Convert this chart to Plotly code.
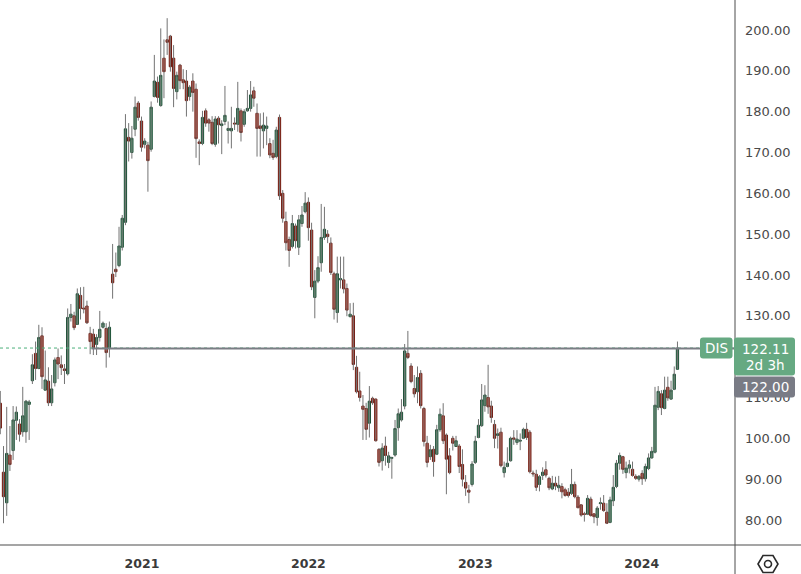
import pandas as pd
import plotly.graph_objects as go

# ---------------- data (weekly DIS candles) ----------------
first_week = "2020-03-09"
opens = [108.6, 91.7, 84.2, 95.9, 97.0, 104.4, 103.5, 101.6, 101.6, 108.3,
         114.1, 120.8, 117.1, 125.1, 111.8, 114.0, 108.7, 113.6, 119.8, 118.0,
         117.0, 115.8, 129.6, 130.0, 127.9, 135.0, 131.9, 132.4, 125.7, 125.5,
         123.0, 124.7, 127.2, 126.9, 122.0, 140.2, 141.4, 142.3, 146.8, 152.9,
         173.7, 170.0, 175.7, 182.1, 177.7, 172.0, 171.8, 170.8, 183.7, 187.2,
         181.5, 193.1, 197.6, 198.5, 193.1, 184.9, 191.4, 187.8, 187.5, 183.7,
         187.5, 185.5, 172.6, 172.2, 180.2, 178.0, 177.4, 172.0, 178.4, 176.6,
         177.6, 175.4, 175.3, 177.2, 176.9, 180.2, 176.9, 180.2, 180.8, 185.1,
         179.6, 176.5, 175.3, 175.9, 172.2, 169.8, 169.0, 178.6, 160.0, 153.1,
         148.7, 147.0, 152.0, 146.8, 152.6, 155.5, 157.8, 151.0, 134.5, 138.5,
         143.0, 149.2, 150.0, 147.8, 140.3, 130.8, 138.8, 138.8, 136.7, 129.8,
         130.0, 117.4, 111.6, 107.9, 107.3, 103.7, 109.8, 109.6, 97.3, 94.5,
         98.1, 94.1, 95.1, 95.9, 102.6, 104.5, 107.9, 120.8, 117.7, 112.2,
         111.4, 115.9, 107.3, 98.8, 95.5, 97.3, 96.1, 102.1, 105.5, 100.8,
         95.7, 100.0, 98.0, 98.1, 93.6, 89.2, 87.3, 88.7, 94.1, 100.2,
         103.1, 108.0, 110.0, 107.9, 103.4, 100.7, 101.5, 91.6, 93.1, 94.5,
         100.1, 99.0, 99.3, 100.0, 102.2, 101.5, 91.5, 91.2, 88.7, 90.9,
         92.3, 90.2, 87.6, 89.0, 87.9, 88.2, 87.4, 86.8, 86.5, 88.7,
         85.6, 83.7, 81.5, 81.4, 85.1, 81.5, 80.6, 84.0, 84.1, 81.9,
         79.4, 84.7, 88.2, 93.9, 95.5, 91.6, 92.7, 92.4, 90.7, 90.0,
         91.4, 90.1, 92.6, 95.2, 96.6, 107.6, 110.9, 107.3, 112.5, 109.6,
         112.0, 116.9]
highs = [111.6, 98.1, 107.7, 103.0, 107.9, 107.8, 104.7, 112.6, 109.4, 109.4,
         120.6, 123.7, 127.8, 127.2, 121.5, 117.4, 115.5, 119.8, 122.0, 120.3,
         118.2, 131.8, 132.9, 131.0, 136.7, 137.0, 137.1, 133.7, 127.3, 126.8,
         125.5, 131.2, 128.6, 128.2, 128.6, 147.6, 145.5, 151.8, 154.7, 179.4,
         177.2, 176.5, 183.7, 182.6, 178.8, 173.5, 172.6, 182.5, 193.9, 188.6,
         200.4, 197.7, 202.9, 198.8, 196.3, 189.8, 191.7, 190.4, 190.2, 186.5,
         189.4, 186.9, 173.2, 180.2, 180.8, 178.4, 178.9, 178.9, 178.9, 177.9,
         186.3, 177.6, 181.2, 178.6, 187.3, 180.8, 180.6, 185.3, 187.5, 186.1,
         182.0, 179.6, 179.8, 178.8, 173.5, 173.1, 176.3, 179.3, 160.8, 155.5,
         149.4, 154.7, 152.6, 154.7, 156.9, 160.3, 159.0, 152.8, 141.2, 144.6,
         157.4, 156.7, 151.0, 149.2, 140.8, 144.5, 144.5, 144.5, 137.9, 133.1,
         133.2, 120.2, 116.3, 110.6, 108.7, 112.8, 110.2, 109.8, 97.6, 98.8,
         100.4, 96.7, 95.5, 104.5, 107.3, 109.6, 123.1, 126.3, 118.4, 115.5,
         117.6, 116.7, 107.7, 100.6, 98.4, 98.1, 103.3, 107.3, 108.6, 101.2,
         97.6, 100.6, 100.6, 98.6, 97.3, 91.0, 88.6, 94.4, 100.6, 104.7,
         113.3, 113.0, 118.0, 109.2, 104.5, 102.4, 102.6, 94.3, 97.8, 100.4,
         102.0, 102.0, 101.2, 102.6, 103.8, 102.0, 92.1, 92.3, 91.0, 92.9,
         94.4, 90.6, 90.8, 90.6, 90.8, 89.0, 87.9, 87.8, 92.5, 89.4,
         86.1, 83.9, 82.0, 86.1, 85.7, 81.6, 83.4, 85.5, 86.1, 84.1,
         85.7, 91.0, 94.7, 96.5, 95.7, 94.3, 94.7, 94.3, 91.2, 91.0,
         92.2, 93.8, 96.3, 97.9, 112.6, 112.8, 111.8, 115.1, 115.1, 114.1,
         117.6, 123.7]
lows = [101.0, 79.2, 81.0, 92.0, 94.7, 99.6, 99.2, 100.4, 98.9, 99.6,
        113.3, 114.3, 116.9, 112.1, 111.7, 107.9, 107.9, 112.7, 114.5, 115.5,
        113.3, 115.4, 128.6, 126.5, 127.8, 129.1, 130.6, 128.0, 120.6, 120.4,
        120.4, 123.7, 126.9, 117.3, 119.8, 134.2, 139.5, 141.9, 146.0, 152.2,
        167.8, 168.5, 174.0, 177.8, 170.2, 171.0, 160.4, 170.2, 183.5, 182.2,
        181.2, 183.3, 193.9, 189.8, 181.1, 183.0, 185.5, 185.5, 178.8, 182.7,
        180.0, 168.7, 166.9, 171.8, 176.3, 175.1, 171.8, 171.4, 172.2, 169.6,
        176.7, 172.2, 171.0, 175.5, 175.1, 172.7, 176.3, 180.0, 180.0, 181.2,
        169.0, 169.0, 171.0, 171.8, 168.6, 168.2, 168.6, 158.4, 152.8, 146.0,
        142.0, 146.5, 146.5, 144.9, 151.8, 155.1, 148.4, 136.3, 129.4, 138.0,
        140.8, 148.6, 147.8, 140.0, 129.1, 128.3, 136.7, 135.5, 129.9, 129.6,
        116.7, 111.0, 109.0, 99.6, 99.6, 100.2, 108.2, 99.2, 93.1, 92.1,
        93.3, 92.7, 90.1, 95.5, 99.4, 104.1, 107.1, 119.4, 113.5, 110.0,
        108.6, 107.3, 98.0, 92.9, 94.7, 90.6, 95.9, 101.6, 98.6, 86.3,
        91.2, 97.0, 98.0, 91.5, 88.2, 85.9, 84.1, 88.2, 93.7, 100.0,
        102.8, 106.5, 106.0, 103.8, 97.6, 97.5, 92.9, 90.4, 92.9, 94.3,
        98.4, 98.4, 97.1, 99.8, 99.6, 91.4, 90.6, 87.1, 87.0, 89.8,
        90.4, 87.3, 87.3, 87.3, 86.9, 85.3, 85.7, 85.5, 86.1, 85.3,
        82.9, 80.8, 79.6, 81.2, 80.8, 79.2, 78.6, 82.5, 82.0, 79.0,
        79.2, 83.4, 87.8, 92.3, 91.3, 90.2, 91.4, 90.6, 89.8, 89.4,
        88.6, 89.4, 92.2, 95.0, 96.3, 106.9, 105.7, 107.1, 109.2, 109.4,
        111.8, 116.9]
closes = [102.5, 85.7, 96.3, 93.6, 104.5, 106.4, 101.0, 105.5, 109.1, 108.9,
          118.0, 117.1, 124.7, 115.1, 114.3, 108.7, 112.1, 119.2, 118.2, 117.3,
          116.6, 129.6, 130.4, 127.1, 135.4, 131.8, 131.7, 128.3, 123.7, 122.2,
          124.7, 126.7, 128.2, 121.0, 127.2, 138.1, 140.8, 147.1, 153.9, 175.8,
          172.8, 173.5, 181.1, 178.6, 171.3, 172.8, 168.0, 181.1, 187.5, 183.5,
          188.9, 189.8, 197.0, 191.0, 185.7, 188.9, 187.6, 187.1, 182.7, 186.0,
          184.7, 173.4, 172.2, 178.6, 177.2, 177.2, 172.2, 178.2, 176.8, 177.0,
          179.1, 175.9, 175.9, 177.0, 180.8, 174.9, 180.0, 180.8, 184.1, 183.3,
          175.9, 175.9, 176.7, 176.5, 169.4, 168.8, 175.5, 159.4, 153.9, 147.9,
          146.0, 152.6, 148.4, 153.5, 154.7, 157.6, 151.6, 137.1, 138.5, 141.8,
          149.2, 151.2, 149.4, 140.6, 131.6, 140.3, 139.1, 136.6, 131.4, 130.4,
          118.1, 111.4, 110.0, 107.1, 102.2, 109.1, 108.7, 99.4, 94.1, 97.6,
          95.8, 95.7, 95.3, 102.4, 106.0, 106.4, 121.4, 119.8, 113.9, 110.9,
          114.9, 108.0, 99.2, 94.1, 97.2, 94.3, 102.1, 105.9, 99.4, 94.9,
          91.6, 98.8, 99.4, 93.1, 90.0, 87.8, 86.8, 93.7, 99.3, 103.2,
          109.4, 110.6, 107.7, 105.1, 100.0, 101.1, 93.3, 92.9, 93.9, 100.0,
          99.8, 99.8, 99.5, 102.2, 100.2, 91.8, 91.3, 88.0, 90.6, 91.7,
          91.0, 87.9, 89.0, 88.3, 88.5, 86.9, 86.0, 86.0, 88.7, 85.7,
          83.0, 81.2, 81.4, 85.3, 81.1, 80.8, 82.9, 84.2, 82.3, 79.2,
          84.9, 88.0, 93.9, 95.8, 92.4, 92.7, 93.5, 90.9, 90.2, 90.7,
          90.1, 93.1, 95.2, 96.8, 108.1, 111.5, 107.5, 111.8, 109.9, 111.8,
          115.7, 122.11]

symbol = "DIS"
last_price = 122.11
countdown = "2d 3h"
ray_level = 122.00
ray_start = "2020-09-24"
year_ticks = ["2021-01-12", "2022-01-10", "2023-01-09", "2024-01-07"]
year_labels = ["2021", "2022", "2023", "2024"]
# the 120.00 label sits under the price label in the reference
price_ticks = [80, 90, 100, 110, 130, 140, 150, 160, 170, 180, 190, 200]

# ---------------- layout constants ----------------
W, H = 801, 574
PLOT_W, PLOT_H = 735, 545
Y_MIN, Y_MAX = 73.87, 207.35
X_MIN, X_MAX = "2020-03-08 09:00", "2024-07-28 12:00"

UP_FILL, UP_LINE = "#4a9a6c", "#1f5138"
DN_FILL, DN_LINE = "#d9402c", "#6e1c12"
WICK = "#737373"
LABEL_GREEN = "#66a982"
LABEL_GRAY = "#797b85"
AXIS_LINE = "#4d4d4d"
FONT = "DejaVu Sans"

dates = pd.date_range(first_week, periods=len(closes), freq="7D")

body_hi = [max(o, c) for o, c in zip(opens, closes)]
body_lo = [min(o, c) for o, c in zip(opens, closes)]

wx, wy = [], []
for d, h, l in zip(dates, highs, lows):
    wx += [d, d, None]
    wy += [l, h, None]

fig = go.Figure()
fig.add_trace(go.Scatter(x=wx, y=wy, mode="lines",
                         line=dict(color=WICK, width=1),
                         hoverinfo="skip", showlegend=False))
fig.add_trace(go.Candlestick(
    x=dates, open=opens, high=body_hi, low=body_lo, close=closes,
    increasing=dict(fillcolor=UP_FILL, line=dict(color=UP_LINE, width=1)),
    decreasing=dict(fillcolor=DN_FILL, line=dict(color=DN_LINE, width=1)),
    whiskerwidth=0, showlegend=False, hoverinfo="skip"))


def px_x(px):
    return px / PLOT_W


def px_y(py):
    return (PLOT_H - py) / PLOT_H


def price_py(p):
    return (Y_MAX - p) / (Y_MAX - Y_MIN) * PLOT_H


def rrect(x0, y0, x1, y1, r=3):
    # rounded rectangle in pixel coords -> paper path
    def P(x, y):
        return f"{px_x(x):.5f},{px_y(y):.5f}"
    return (f"M {P(x0 + r, y0)} L {P(x1 - r, y0)} Q {P(x1, y0)} {P(x1, y0 + r)} "
            f"L {P(x1, y1 - r)} Q {P(x1, y1)} {P(x1 - r, y1)} L {P(x0 + r, y1)} "
            f"Q {P(x0, y1)} {P(x0, y1 - r)} L {P(x0, y0 + r)} Q {P(x0, y0)} {P(x0 + r, y0)} Z")


shapes = []
# last price dotted line
shapes.append(dict(type="line", xref="paper", yref="y", x0=0, x1=1,
                   y0=last_price, y1=last_price,
                   line=dict(color="#4caf7a", width=1, dash="dot")))
# horizontal ray
shapes.append(dict(type="line", xref="x", yref="y", x0=ray_start, x1=X_MAX,
                   y0=ray_level, y1=ray_level,
                   line=dict(color="#7a7d84", width=2)))
# axis frame lines
shapes.append(dict(type="line", xref="paper", yref="paper", x0=1, x1=1,
                   y0=px_y(H), y1=1, line=dict(color=AXIS_LINE, width=1)))
shapes.append(dict(type="line", xref="paper", yref="paper", x0=0, x1=px_x(W),
                   y0=0, y1=0, line=dict(color=AXIS_LINE, width=1.2)))

cy = price_py(last_price)
# symbol label
shapes.append(dict(type="path", xref="paper", yref="paper",
                   path=rrect(700, cy - 10.5, 732.5, cy + 10.5),
                   fillcolor=LABEL_GREEN, line=dict(width=0)))
# price + countdown label
shapes.append(dict(type="path", xref="paper", yref="paper",
                   path=rrect(734, cy - 10.5, 795, cy + 27.5),
                   fillcolor=LABEL_GREEN, line=dict(width=0)))
# ray level label
shapes.append(dict(type="path", xref="paper", yref="paper",
                   path=rrect(734, cy + 28.5, 795, cy + 49.5),
                   fillcolor=LABEL_GRAY, line=dict(width=0)))

# settings icon (hexagon + circle)
hx, hy = 768, 564
hexpts = [(hx - 10, hy), (hx - 5, hy - 8.5), (hx + 5, hy - 8.5), (hx + 10, hy),
          (hx + 5, hy + 8.5), (hx - 5, hy + 8.5)]
hpath = "M " + " L ".join(f"{px_x(a):.5f},{px_y(b):.5f}" for a, b in hexpts) + " Z"
shapes.append(dict(type="path", xref="paper", yref="paper", path=hpath,
                   line=dict(color="#2a2a2a", width=1.6)))
shapes.append(dict(type="circle", xref="paper", yref="paper",
                   x0=px_x(hx - 3.5), x1=px_x(hx + 3.5),
                   y0=px_y(hy + 3.5), y1=px_y(hy - 3.5),
                   line=dict(color="#2a2a2a", width=1.6)))

annotations = [
    dict(xref="paper", yref="paper", x=px_x(716.5), y=px_y(cy), text=symbol,
         showarrow=False, font=dict(family=FONT, size=13.5, color="white"),
         xanchor="center", yanchor="middle"),
    dict(xref="paper", yref="paper", x=px_x(765), y=px_y(cy + 0.5), text=f"{last_price:.2f}",
         showarrow=False, font=dict(family=FONT, size=13.5, color="white"),
         xanchor="center", yanchor="middle"),
    dict(xref="paper", yref="paper", x=px_x(765), y=px_y(cy + 17), text=countdown,
         showarrow=False, font=dict(family=FONT, size=13.5, color="white"),
         xanchor="center", yanchor="middle"),
    dict(xref="paper", yref="paper", x=px_x(765), y=px_y(cy + 39), text=f"{ray_level:.2f}",
         showarrow=False, font=dict(family=FONT, size=13.5, color="white"),
         xanchor="center", yanchor="middle"),
]

fig.update_layout(
    width=W, height=H,
    margin=dict(l=0, r=W - PLOT_W, t=0, b=H - PLOT_H),
    paper_bgcolor="white", plot_bgcolor="white",
    showlegend=False,
    boxgap=0.05, boxgroupgap=0.25,
    shapes=shapes, annotations=annotations,
    xaxis=dict(type="date", range=[X_MIN, X_MAX], rangeslider=dict(visible=False),
               showgrid=False, zeroline=False, showline=False,
               tickvals=year_ticks, ticktext=year_labels, ticks="",
               ticklabelstandoff=9,
               tickfont=dict(family=FONT, size=12.5, color="#3a3a3a", weight="bold")),
    yaxis=dict(side="right", range=[Y_MIN, Y_MAX], showgrid=False, zeroline=False,
               showline=False, tickvals=price_ticks,
               ticktext=[f"{v:.2f}" for v in price_ticks], ticks="",
               ticklabelstandoff=9,
               tickfont=dict(family=FONT, size=13, color="#4a4a4a")),
    hovermode=False,
)

fig.write_html("out.html", config={"displayModeBar": False, "staticPlot": True},
               post_script="document.body.style.margin='0';document.body.style.padding='0';")
